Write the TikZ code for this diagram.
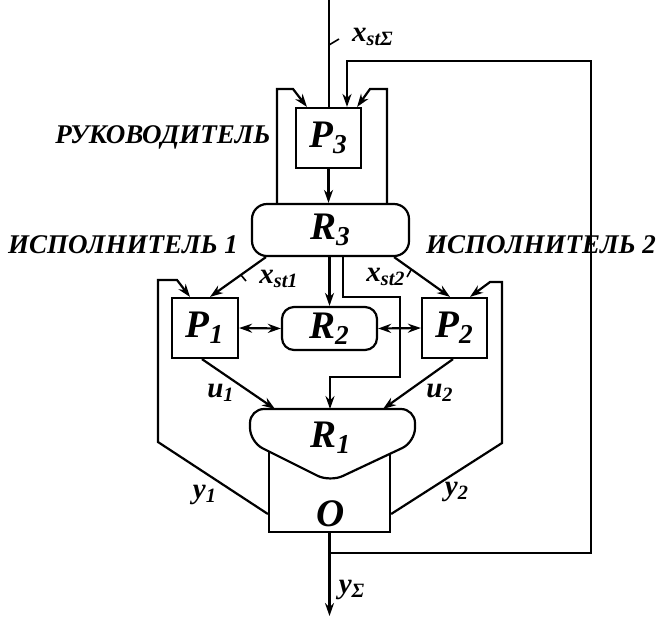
\documentclass[tikz,border=0pt]{standalone}
\usepackage{fontspec}
\setmainfont{Liberation Serif}
\usetikzlibrary{arrows.meta}
\begin{document}
\begin{tikzpicture}[x=0.5pt,y=-0.5pt,line width=1.1pt,>={Stealth[length=6.5pt,width=4.5pt]},
  big/.style={font=\fontsize{19.5}{19.5}\selectfont\bfseries\itshape},
  blk/.style={draw,big,minimum width=32.5pt,minimum height=30pt,inner sep=0pt},
  rblk/.style={blk,rounded corners=7.5pt},
  sig/.style={font=\fontsize{14.5}{14.5}\selectfont\bfseries\itshape,inner sep=0pt},
  grp/.style={font=\fontsize{13.5}{13.5}\selectfont\bfseries\itshape,inner sep=0pt},
  tick/.style={line width=0.8pt}]
\useasboundingbox (0,0) rectangle (657,618);
\node[blk] (P3) at (328.5,138) {P\textsubscript{3}};
\node[rblk,minimum width=78.5pt,minimum height=26pt] (R3) at (330.5,230) {R\textsubscript{3}};
\node[blk,minimum width=33pt] (P1) at (205,328) {P\textsubscript{1}};
\node[blk] (P2) at (454.5,328) {P\textsubscript{2}};
\node[rblk,rounded corners=6pt,minimum width=47.5pt,minimum height=21.5pt] (R2) at (329.5,328.5) {R\textsubscript{2}};
\node[draw,minimum width=60.5pt,minimum height=51pt] (O) at (329.5,481) {};
\node[big] (Otxt) at (331,514) {O};
\draw[fill=white,rounded corners=7pt] (250,409) -- (250,442) -- (330,482) -- (415,442) -- (415,409) -- cycle;
\node[big] (R1) at (331,438) {R\textsubscript{1}};
\coordinate (R1u1) at (275,409);
\coordinate (R1x) at (330,409);
\coordinate (R1u2) at (383,409);
\coordinate (in) at (329,0);
\coordinate (out) at (329.5,616);
\coordinate (br) at (329.5,553);
\coordinate (fbr) at (591,553);
\coordinate (fbt) at (591,61);
\coordinate (k3l) at (277,89);
\coordinate (k3r) at (387,89);
\coordinate (xs2) at (343,297);
\coordinate (xs2b) at (400,377);
\coordinate (k1a) at (158,442);
\coordinate (k1b) at (158,280);
\coordinate (k2a) at (502,443);
\coordinate (k2b) at (502,282);
\draw (in) -- (in |- P3.north);
\draw[->] (br) -- (fbr) -- (fbt) -| ([xshift=9.25pt]P3.north);
\draw[->] (R3.north -| k3l) -- (k3l) -- ++(16,0) -- ([xshift=6pt]P3.north west);
\draw[->] (R3.north -| k3r) -- (k3r) -- ++(-17,0) -- ([xshift=-2.5pt]P3.north east);
\draw[->] (P3.south) -- (P3.south |- R3.north);
\draw[->] ([xshift=7.5pt]R3.south west) -- ([xshift=2.5pt]P1.north);
\draw[->] ([xshift=-8pt]R3.south east) -- ([xshift=-2.25pt]P2.north);
\draw[->] (R2.north |- R3.south) -- (R2.north);
\draw[->] (R3.south -| xs2) -- (xs2) -| (xs2b) -| (R1x);
\draw[<->] (P1.east) -- (R2.west);
\draw[<->] (R2.east) -- (P2.west);
\draw[->] ([yshift=-16.5pt]O.west) -- (k1a) -- (k1b) -- ++(19,0) -- ([xshift=-7.5pt]P1.north);
\draw[->] ([yshift=-16.5pt]O.east) -- (k2a) -- (k2b) -- ++(-12,0) -- ([xshift=7.75pt]P2.north);
\draw[->] ([xshift=-1.5pt]P1.south) -- (R1u1);
\draw[->] ([xshift=-0.75pt]P2.south) -- (R1u2);
\draw[->] (O.south) -- (out);
\draw[tick] (329,45) -- ++(10,-6);
\draw[tick] (241,275) -- ++(5,6);
\draw[tick] (411,270) -- ++(-4,7);
\node[sig] (xsum) at (373,37) {x\textsubscript{stΣ}};
\node[sig] (xst1) at (279,279) {x\textsubscript{st1}};
\node[sig] (xst2) at (386,277) {x\textsubscript{st2}};
\node[sig] (u1) at (221,393) {u\textsubscript{1}};
\node[sig] (u2) at (440,393) {u\textsubscript{2}};
\node[sig] (y1) at (205,495) {y\textsubscript{1}};
\node[sig] (y2) at (457,492) {y\textsubscript{2}};
\node[sig] (ysum) at (352,590) {y\textsubscript{Σ}};
\node[grp] (boss) at (163,137) {РУКОВОДИТЕЛЬ};
\node[grp] (ex1) at (123,245) {ИСПОЛНИТЕЛЬ 1};
\node[grp] (ex2) at (541,245) {ИСПОЛНИТЕЛЬ 2};
\end{tikzpicture}
\end{document}
